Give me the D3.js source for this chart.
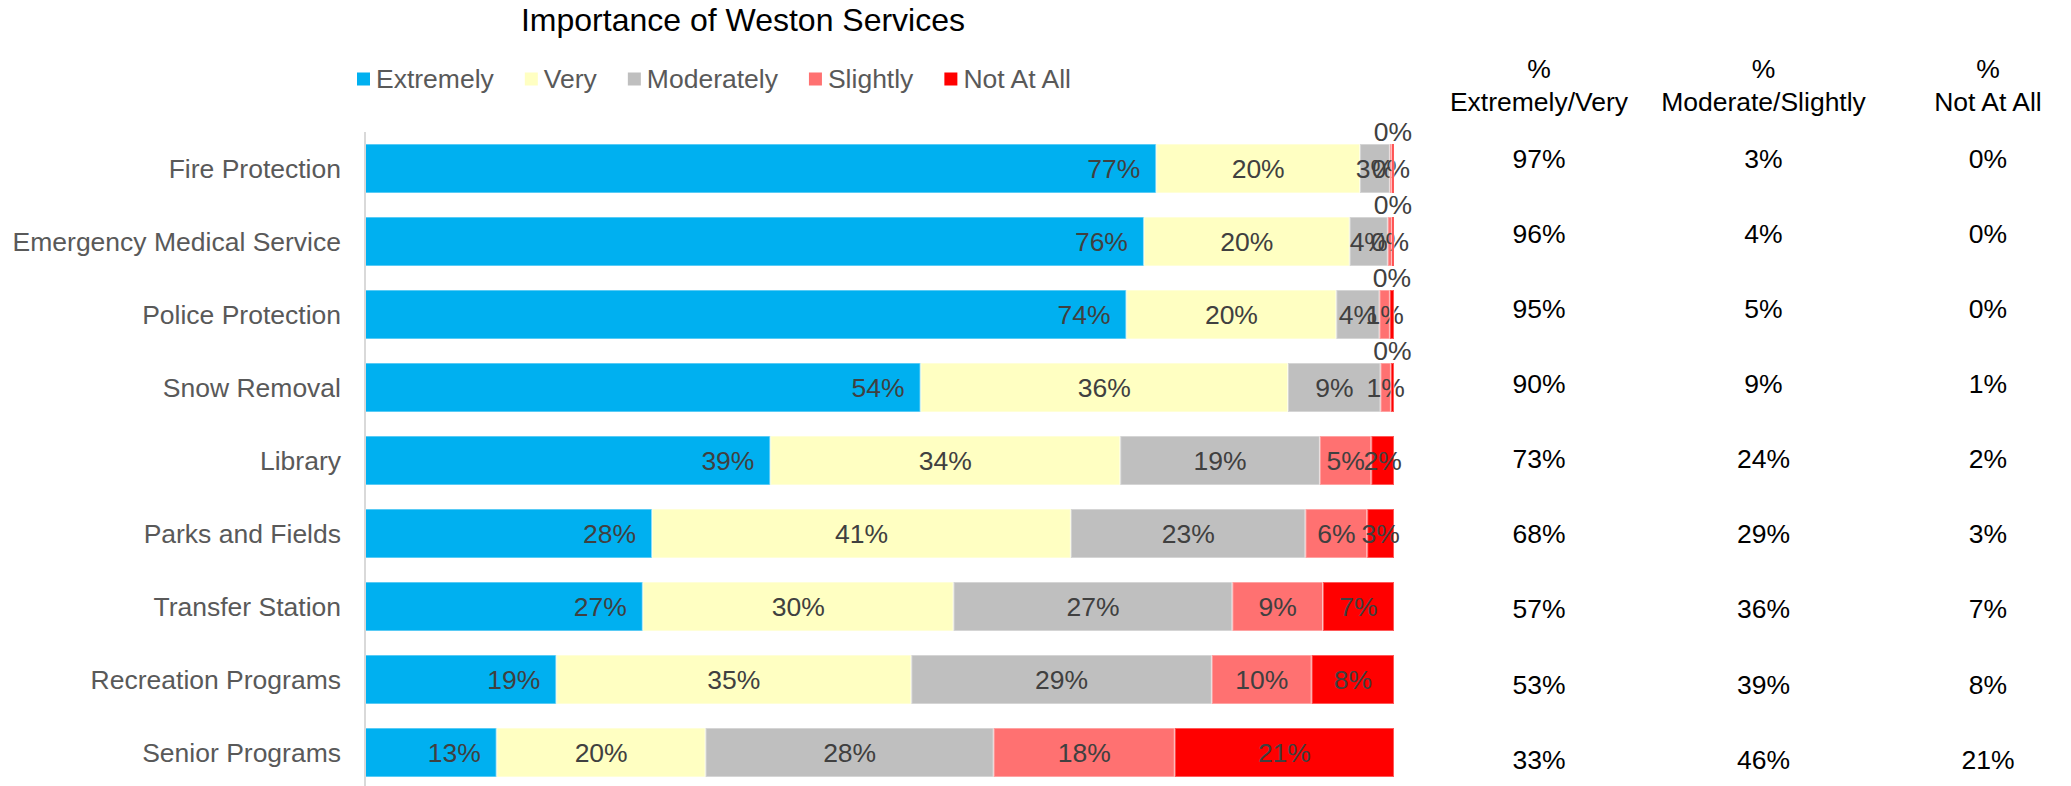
<!DOCTYPE html>
<html>
<head>
<meta charset="utf-8">
<script src="https://cdn.jsdelivr.net/npm/d3@7"></script>
<style>
  body { margin: 0; background: #fff; }
  text { font-family: "Liberation Sans", Arial, sans-serif; }
</style>
</head>
<body>
<svg id="chart" width="2071" height="786"></svg>
<script>
// data (percent of respondents)
var categories = ["Fire Protection", "Emergency Medical Service", "Police Protection", "Snow Removal",
  "Library", "Parks and Fields", "Transfer Station", "Recreation Programs", "Senior Programs"];
var seriesNames = ["Extremely", "Very", "Moderately", "Slightly", "Not At All"];
var extremely  = [76.9, 75.7, 74.0, 54.0, 39.4, 27.9, 27.0, 18.6, 12.8];
var very       = [19.8, 20.0, 20.4, 35.7, 34.0, 40.7, 30.2, 34.5, 20.3];
var moderately = [2.9, 3.7, 4.2, 9.0, 19.4, 22.8, 27.1, 29.2, 28.0];
var slightly   = [0.2, 0.4, 1.0, 1.0, 5.0, 6.0, 8.8, 9.7, 17.6];
var notAtAll   = [0.2, 0.2, 0.4, 0.3, 2.2, 2.6, 6.9, 8.0, 21.3];

// summary table on the right
var tableHeads = ["Extremely/Very", "Moderate/Slightly", "Not At All"];
var pctExtVery = [97, 96, 95, 90, 73, 68, 57, 53, 33];
var pctModSlight = [3, 4, 5, 9, 24, 29, 36, 39, 46];
var pctNotAtAll = [0, 0, 0, 1, 2, 3, 7, 8, 21];

var colors = ["#00B0F0", "#FFFFC2", "#BFBFBF", "#FF7171", "#FF0000"];

var svg = d3.select("#chart");

var rows = categories.map(function(c, i) {
  return {cat: c, Extremely: extremely[i], Very: very[i], Moderately: moderately[i],
    Slightly: slightly[i], "Not At All": notAtAll[i]};
});
var stacked = d3.stack().keys(seriesNames)(rows);

var x = d3.scaleLinear().domain([0, 100]).range([365, 1394]);
var y = d3.scaleBand().domain(categories).range([132, 789]).paddingInner(24 / 73).paddingOuter(12 / 73);
var color = d3.scaleOrdinal().domain(seriesNames).range(colors);

// title
svg.append("text")
  .attr("x", 743).attr("y", 20).attr("dy", "0.35em")
  .attr("text-anchor", "middle")
  .style("font-size", "32px").attr("fill", "#000")
  .text("Importance of Weston Services");

// bars
var layer = svg.selectAll(".layer")
  .data(stacked)
  .enter().append("g")
  .attr("class", "layer")
  .attr("fill", function(d) { return color(d.key); });

layer.selectAll("rect")
  .data(function(d) { return d; })
  .enter().append("rect")
  .attr("x", function(d) { return x(d[0]); })
  .attr("y", function(d) { return y(d.data.cat); })
  .attr("width", function(d) { return x(d[1]) - x(d[0]); })
  .attr("height", y.bandwidth())
  .attr("stroke", "rgba(255,255,255,0.35)")
  .attr("stroke-width", 2);

// axis line
svg.append("line")
  .attr("x1", 365).attr("x2", 365)
  .attr("y1", y.range()[0]).attr("y2", y.range()[1])
  .attr("stroke", "#d9d9d9").attr("stroke-width", 2);

// category labels
svg.selectAll(".cat")
  .data(categories)
  .enter().append("text")
  .attr("class", "cat")
  .attr("x", 341)
  .attr("y", function(d) { return y(d) + y.bandwidth() / 2; })
  .attr("dy", "0.35em")
  .attr("text-anchor", "end")
  .style("font-size", "26.5px").attr("fill", "#595959")
  .text(function(d) { return d; });

// value labels on the bars
layer.selectAll(".lbl")
  .data(function(d) { return d.map(function(p) { p.key = d.key; return p; }); })
  .enter().append("text")
  .attr("class", "lbl")
  .attr("x", function(d) {
    if (d.key == "Extremely") return x(d[1]) - 16;
    return (x(d[0]) + x(d[1])) / 2;
  })
  .attr("y", function(d) {
    var cy = y(d.data.cat) + y.bandwidth() / 2;
    if (d.key == "Not At All" && Math.round(d[1] - d[0]) == 0) cy -= 37;
    return cy;
  })
  .attr("dy", "0.35em")
  .attr("text-anchor", function(d) { return d.key == "Extremely" ? "end" : "middle"; })
  .style("font-size", "26.5px").attr("fill", "#404040")
  .text(function(d) { return Math.round(d[1] - d[0]) + "%"; });

// legend
var lx = 357;
seriesNames.forEach(function(s) {
  var g = svg.append("g").attr("transform", "translate(" + lx + ",79)");
  g.append("rect").attr("x", 0).attr("y", -6.5).attr("width", 13).attr("height", 13).attr("fill", color(s));
  var t = g.append("text").attr("x", 19).attr("dy", "0.35em")
    .style("font-size", "26.5px").attr("fill", "#595959").text(s);
  lx += 19 + t.node().getComputedTextLength() + 31;
});

// table
var colX = d3.scalePoint().domain(tableHeads).range([1539, 1988]);
var ty = d3.scaleBand().domain(categories).range([121, 797]);
var cols = [pctExtVery, pctModSlight, pctNotAtAll];

tableHeads.forEach(function(h, j) {
  svg.append("text").attr("x", colX(h)).attr("y", 69).attr("dy", "0.35em")
    .attr("text-anchor", "middle").style("font-size", "26.5px").attr("fill", "#000").text("%");
  svg.append("text").attr("x", colX(h)).attr("y", 102).attr("dy", "0.35em")
    .attr("text-anchor", "middle").style("font-size", "26.5px").attr("fill", "#000").text(h);
  svg.selectAll(".tv" + j)
    .data(cols[j])
    .enter().append("text")
    .attr("x", colX(h))
    .attr("y", function(d, i) { return ty(categories[i]) + ty.bandwidth() / 2; })
    .attr("dy", "0.35em")
    .attr("text-anchor", "middle")
    .style("font-size", "26.5px").attr("fill", "#000")
    .text(function(d) { return d + "%"; });
});
</script>
</body>
</html>
